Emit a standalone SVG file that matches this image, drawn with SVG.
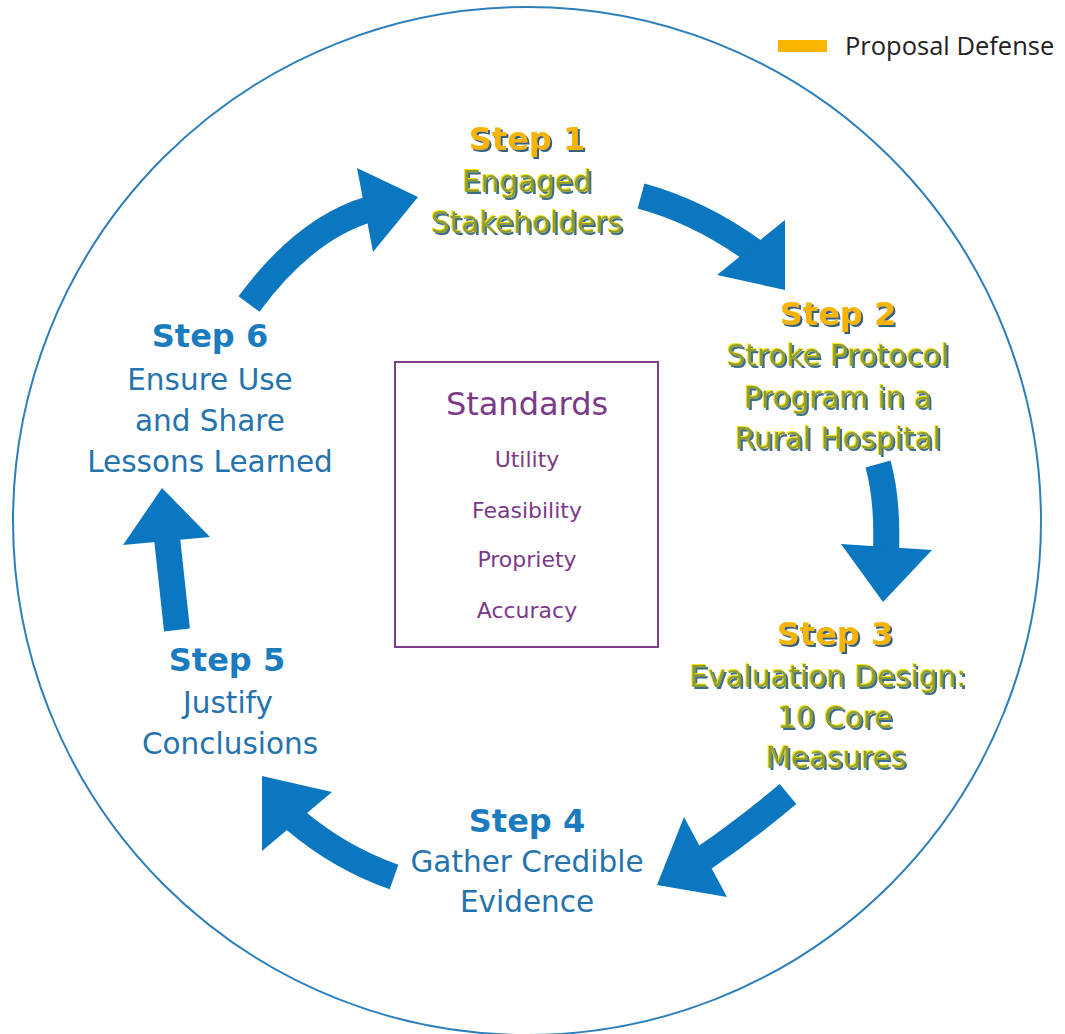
<svg xmlns="http://www.w3.org/2000/svg" width="1065" height="1034" viewBox="0 0 1065 1034">
<style>
.t{font-family:"DejaVu Sans","Liberation Sans",sans-serif;text-anchor:middle}
.hd{font-weight:bold;font-size:32px}
.bd{font-size:29.5px}
.blueH{fill:#1b7bbf}
.blueB{fill:#2573ad}
.yelH{fill:#f5b400;filter:url(#shH)}
.yelB{fill:#8e9c34;filter:url(#shB)}
.std{fill:#7b3a88}
.shaft{fill:none;stroke:#0b77c0;stroke-width:26;stroke-linecap:butt}
.head{fill:#0b77c0}
</style>
<defs>
<filter id="shH" x="-10%" y="-20%" width="120%" height="150%">
<feOffset in="SourceAlpha" dx="2" dy="2" result="o1"/>
<feFlood flood-color="#34607e" result="c1"/>
<feComposite in="c1" in2="o1" operator="in" result="sh"/>
<feMerge><feMergeNode in="sh"/><feMergeNode in="SourceGraphic"/></feMerge>
</filter>
<filter id="shB" x="-10%" y="-20%" width="120%" height="150%">
<feOffset in="SourceAlpha" dx="1.5" dy="1.5" result="o1"/>
<feFlood flood-color="#3e6e88" result="c1"/>
<feComposite in="c1" in2="o1" operator="in" result="sh"/>
<feOffset in="SourceAlpha" dx="-1.2" dy="-1.2" result="o2"/>
<feFlood flood-color="#f4e400" result="c2"/>
<feComposite in="c2" in2="o2" operator="in" result="hl"/>
<feMerge><feMergeNode in="sh"/><feMergeNode in="hl"/><feMergeNode in="SourceGraphic"/></feMerge>
</filter>
</defs>
<rect width="1065" height="1034" fill="#ffffff"/>
<circle id="ring" cx="527" cy="521" r="514" fill="none" stroke="#2c7fba" stroke-width="2"/>
<g id="legend">
<rect x="778" y="40" width="49" height="12" fill="#f7b500"/>
<text x="845" y="55" font-family="Open Sans, Liberation Sans, sans-serif" font-size="25.5" fill="#222">Proposal Defense</text>
</g>
<g id="connectors">
<path class="shaft" d="M249,304 Q305,228 370,209"/>
<polygon class="head" points="357,168 373,252 418,197"/>
<path class="shaft" d="M641,196 Q700,212 755,252"/>
<polygon class="head" points="717,275 785,220 785,290"/>
<path class="shaft" d="M878,464 Q888,500 886,552"/>
<polygon class="head" points="841,544 932,550 883,602"/>
<path class="shaft" d="M788,794 Q745,830 704,858"/>
<polygon class="head" points="684,817 727,897 657,885"/>
<path class="shaft" d="M394,877 Q340,858 295,820"/>
<polygon class="head" points="262,776 332,792 262,851"/>
<path class="shaft" d="M177,630 Q172,585 167,538"/>
<polygon class="head" points="123,545 210,537 162,488"/>
</g>
<g id="step1" class="t">
<text class="hd yelH" x="527" y="150">Step 1</text>
<text class="bd yelB" x="527" y="192">Engaged</text>
<text class="bd yelB" x="527" y="233">Stakeholders</text>
</g>
<g id="step2" class="t">
<text class="hd yelH" x="838" y="325">Step 2</text>
<text class="bd yelB" x="838" y="366">Stroke Protocol</text>
<text class="bd yelB" x="838" y="408">Program in a</text>
<text class="bd yelB" x="838" y="449">Rural Hospital</text>
</g>
<g id="step3" class="t">
<text class="hd yelH" x="835" y="645">Step 3</text>
<text class="bd yelB" x="828" y="687">Evaluation Design:</text>
<text class="bd yelB" x="835" y="728">10 Core</text>
<text class="bd yelB" x="836" y="768">Measures</text>
</g>
<g id="step4" class="t">
<text class="hd blueH" x="527" y="832">Step 4</text>
<text class="bd blueB" x="527" y="872">Gather Credible</text>
<text class="bd blueB" x="527" y="912">Evidence</text>
</g>
<g id="step5" class="t">
<text class="hd blueH" x="227" y="671">Step 5</text>
<text class="bd blueB" x="228" y="713">Justify</text>
<text class="bd blueB" x="230" y="754">Conclusions</text>
</g>
<g id="step6" class="t">
<text class="hd blueH" x="210" y="347">Step 6</text>
<text class="bd blueB" x="210" y="390">Ensure Use</text>
<text class="bd blueB" x="210" y="431">and Share</text>
<text class="bd blueB" x="210" y="472">Lessons Learned</text>
</g>
<g id="standards" class="t">
<rect x="395" y="362" width="263" height="285" fill="none" stroke="#7b3f8c" stroke-width="2"/>
<text class="std" x="527" y="415" font-size="32">Standards</text>
<text class="std" x="527" y="467" font-size="22">Utility</text>
<text class="std" x="527" y="518" font-size="22">Feasibility</text>
<text class="std" x="527" y="567" font-size="22">Propriety</text>
<text class="std" x="527" y="618" font-size="22">Accuracy</text>
</g>
</svg>
